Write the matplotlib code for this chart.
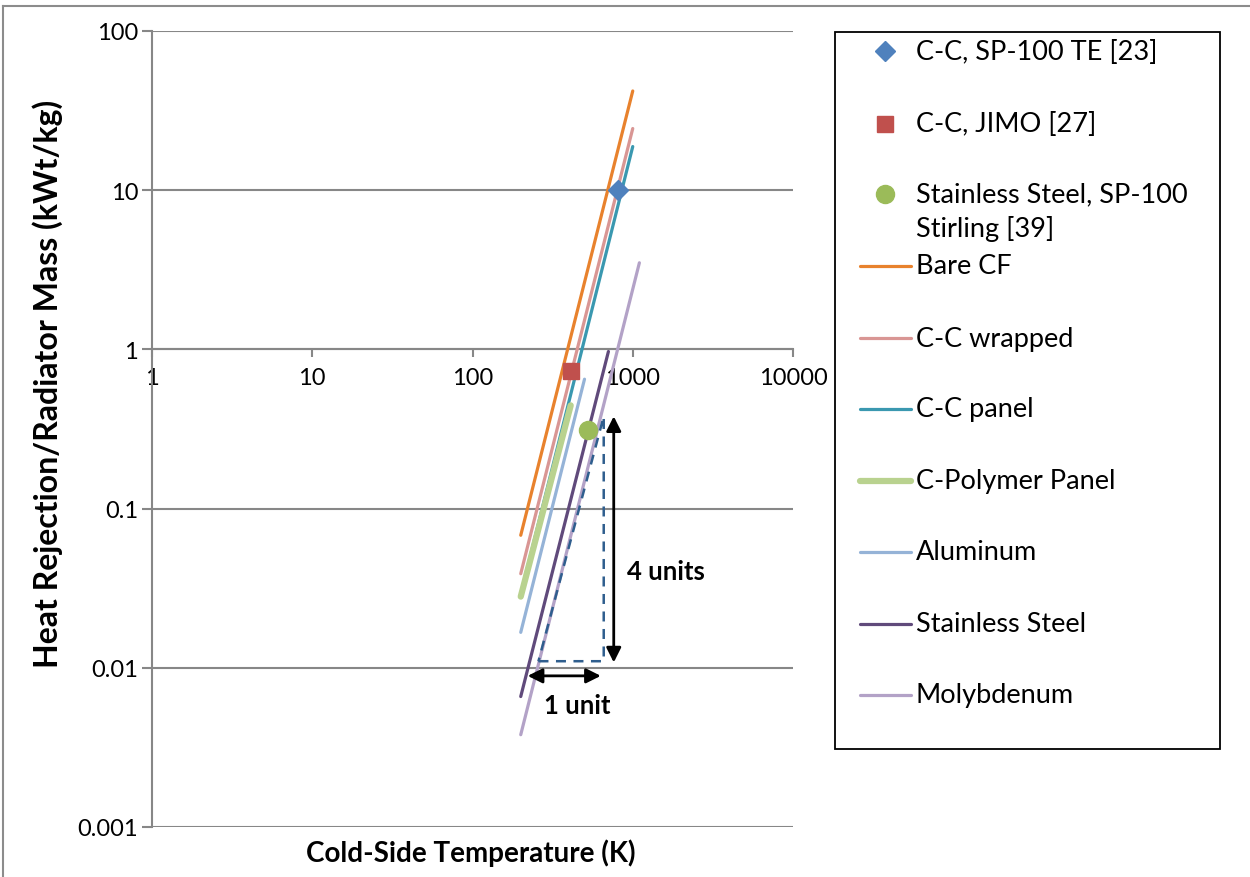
import matplotlib
matplotlib.use("Agg")
import matplotlib.pyplot as plt
from matplotlib.lines import Line2D
from matplotlib.patches import Rectangle

plt.rcParams['font.family'] = ['Lato', 'DejaVu Sans']

W, H = 1250, 878

# ---- data ----
pt_names = ["C-C, SP-100 TE [23]", "C-C, JIMO [27]", "Stainless Steel, SP-100\nStirling [39]"]
pt_x = [805, 410, 525]
pt_y = [10.0, 0.73, 0.31]
pt_markers = ["D", "s", "o"]
pt_colors = ["#4F81BD", "#C0504D", "#9BBB59"]

line_names = ["Bare CF", "C-C wrapped", "C-C panel", "C-Polymer Panel",
              "Aluminum", "Stainless Steel", "Molybdenum"]
line_x = [[200, 1000], [200, 1000], [200, 1000], [200, 410],
          [200, 500], [200, 705], [200, 1100]]
line_y = [[0.068, 42.0], [0.039, 24.4], [0.029, 18.8], [0.028, 0.445],
          [0.0167, 0.65], [0.0066, 0.97], [0.0038, 3.5]]
line_colors = ["#E8822D", "#D99694", "#3A98B0", "#B9D28F",
               "#95B3D7", "#604A7B", "#B3A2C7"]
line_widths = [2.3, 2.3, 2.3, 4.5, 2.3, 2.3, 2.3]

x_ticks = [1, 10, 100, 1000, 10000]
x_ticklabels = ["1", "10", "100", "1000", "10000"]
y_ticks = [0.001, 0.01, 0.1, 1, 10, 100]
y_ticklabels = ["0.001", "0.01", "0.1", "1", "10", "100"]

# slope triangle annotation (data coords)
tri_x = [258, 659, 659, 258]
tri_y = [0.011, 0.011, 0.38, 0.011]

fig = plt.figure(figsize=(W / 100, H / 100), dpi=100)


def fx(px):
    return px / W


def fy(py):
    return 1 - py / H


ax = fig.add_axes([fx(152), fy(828), fx(793) - fx(152), fy(32) - fy(828)])
ax.set_xscale("log")
ax.set_yscale("log")
ax.set_xlim(1, 10000)
ax.set_ylim(0.001, 100)

grid_c = "#878787"
ax.set_yticks(y_ticks)
ax.set_yticklabels(y_ticklabels)
ax.set_xticks(x_ticks)
ax.set_xticklabels(x_ticklabels)
ax.minorticks_off()
ax.yaxis.grid(True, color=grid_c, lw=1.5)
ax.xaxis.grid(False)
ax.set_axisbelow(True)

for s in ["top", "right"]:
    ax.spines[s].set_visible(False)
ax.spines["left"].set_color(grid_c)
ax.spines["left"].set_linewidth(1.5)
ax.spines["bottom"].set_position(("data", 1))
ax.spines["bottom"].set_color(grid_c)
ax.spines["bottom"].set_linewidth(1.5)
ax.tick_params(axis="y", direction="out", length=7, width=1.5, color=grid_c,
               labelsize=17, pad=3)
ax.tick_params(axis="x", direction="out", length=6, width=1.5, color=grid_c,
               labelsize=17, pad=7)

for nm, xs, ys, c, lw in zip(line_names, line_x, line_y, line_colors, line_widths):
    ax.plot(xs, ys, color=c, lw=lw, solid_capstyle="round", zorder=3)

msizes = [10, 11, 13]
for nm, x, y, m, c, ms in zip(pt_names, pt_x, pt_y, pt_markers, pt_colors, msizes):
    ax.plot([x], [y], marker=m, color=c, ms=ms, ls="none", mec=c, zorder=4)

# slope triangle
ax.plot(tri_x, tri_y, ls=(0, (4, 3)), color="#2F5E8E", lw=1.8, zorder=5)
ax.annotate("", xy=(761, 0.38), xytext=(761, 0.0108),
            arrowprops=dict(arrowstyle="<|-|>", color="black", lw=2,
                            mutation_scale=22, shrinkA=0, shrinkB=0), zorder=6)
ax.annotate("", xy=(221, 0.0089), xytext=(632, 0.0089),
            arrowprops=dict(arrowstyle="<|-|>", color="black", lw=2,
                            mutation_scale=22, shrinkA=0, shrinkB=0), zorder=6)
fig.text(fx(666), fy(572), "4 units", fontsize=18.5, fontweight="bold",
         ha="center", va="center")
fig.text(fx(577), fy(706), "1 unit", fontsize=18.5, fontweight="bold",
         ha="center", va="center")

# axis labels
fig.text(fx(471), fy(853), "Cold-Side Temperature (K)", fontsize=20,
         fontweight="bold", ha="center", va="center")
fig.text(fx(48), fy(384), "Heat Rejection/Radiator Mass (kWt/kg)", fontsize=23,
         fontweight="bold", ha="center", va="center", rotation=90)

# legend (manual)
fig.add_artist(Rectangle((fx(835), fy(750)), fx(1220) - fx(835), fy(33) - fy(750),
                         transform=fig.transFigure, fill=False, ec="black", lw=1.3))
pt_ly = [52, 125, 195]
for nm, m, c, ms, ly in zip(pt_names, pt_markers, pt_colors, msizes, pt_ly):
    fig.add_artist(Line2D([fx(885)], [fy(ly)], marker=m, color=c, mec=c, ms=ms,
                          ls="none", transform=fig.transFigure))
    lines = nm.split("\n")
    for i, t in enumerate(lines):
        fig.text(fx(916), fy(ly + i * 34), t, fontsize=19.5, ha="left", va="center")
ln_ly = [267, 339, 410, 482, 553, 625, 696]
for nm, c, lw, ly in zip(line_names, line_colors, line_widths, ln_ly):
    fig.add_artist(Line2D([fx(860), fx(911)], [fy(ly), fy(ly)], color=c, lw=lw,
                          solid_capstyle="round", transform=fig.transFigure))
    fig.text(fx(916), fy(ly), nm, fontsize=19.5, ha="left", va="center")

# outer chart border
fig.add_artist(Line2D([fx(3), 1.0], [fy(7), fy(7)], color="#8C8C8C", lw=1.5,
                      transform=fig.transFigure))
fig.add_artist(Line2D([fx(3), fx(3)], [fy(7), 0.0], color="#8C8C8C", lw=1.5,
                      transform=fig.transFigure))

fig.savefig("out.png", dpi=100)
